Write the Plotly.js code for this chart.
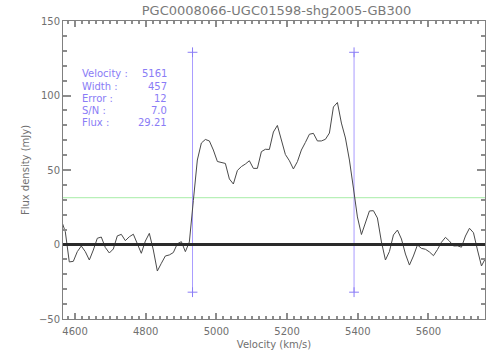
<!DOCTYPE html>
<html>
<head>
<meta charset="utf-8">
<script src="https://cdn.plot.ly/plotly-3.0.1.min.js"></script>
<style>
html,body{margin:0;padding:0;background:#fff;}
#chart{width:504px;height:360px;}
</style>
</head>
<body>
<div id="chart"></div>
<script>
// ---- data ----
var velocity = [
4561.2,4572.5,4583.8,4595.2,4606.5,4617.8,4629.1,4640.5,4651.8,4663.1,
4674.4,4685.7,4697.1,4708.4,4719.7,4731.0,4742.4,4753.7,4765.0,4776.3,
4787.6,4799.0,4810.3,4821.6,4832.9,4844.3,4855.6,4866.9,4878.2,4889.5,
4900.9,4912.2,4923.5,4934.8,4946.1,4957.5,4968.8,4980.1,4991.4,5002.8,
5014.1,5025.4,5036.7,5048.0,5059.4,5070.7,5082.0,5093.3,5104.7,5116.0,
5127.3,5138.6,5149.9,5161.3,5172.6,5183.9,5195.2,5206.6,5217.9,5229.2,
5240.5,5251.8,5263.2,5274.5,5285.8,5297.1,5308.5,5319.8,5331.1,5342.4,
5353.7,5365.1,5376.4,5387.7,5399.0,5410.4,5421.7,5433.0,5444.3,5455.6,
5467.0,5478.3,5489.6,5500.9,5512.3,5523.6,5534.9,5546.2,5557.5,5568.9,
5580.2,5591.5,5602.8,5614.2,5625.5,5636.8,5648.1,5659.4,5670.8,5682.1,
5693.4,5704.7,5716.1,5727.4,5738.7,5750.0,5761.3
];
var flux = [
16.4,8.6,-11.7,-11.3,-4.8,-1.0,-4.8,-10.4,-3.7,4.2,
5.0,-2.0,-5.7,-3.0,5.8,6.8,2.6,5.2,6.9,0.5,
-5.9,2.3,7.5,-3.7,-17.8,-12.6,-7.7,-7.0,-5.4,0.5,
1.9,-4.8,1.7,29.5,56.7,68.1,70.5,69.5,63.4,55.7,
55.2,54.4,44.0,40.6,49.7,52.3,54.0,56.2,51.1,51.1,
62.3,63.9,63.8,75.5,79.9,70.8,60.4,56.2,50.7,55.6,
63.4,68.5,74.0,74.6,69.5,69.5,70.6,74.8,92.3,95.3,
81.5,71.5,56.7,37.9,18.5,6.7,14.2,22.5,22.7,17.8,
1.7,-10.4,-4.7,6.4,9.7,3.7,-6.4,-13.8,-7.7,-0.3,
-2.6,-3.2,-5.0,-7.5,-3.4,1.5,4.8,2.3,-1.0,-0.9,
-1.8,5.7,10.9,7.9,-3.7,-14.4,-9.3
];
var edgeVelocity = [4932.5, 5389.5];   // W50 edges
var edgeFluxRange = [-32, 129];         // extent of the edge markers
var halfPeakLevel = 31.4;               // green reference level
var statLabels = ['Velocity :', 'Width :', 'Error :', 'S/N :', 'Flux :'];
var statValues = ['5161', '457', '12', '7.0', '29.21'];
var titleText = 'PGC0008066-UGC01598-shg2005-GB300';
var xRange = [4566, 5760];
var yRange = [-50, 150];

// ---- styling ----
var FONT = 'DejaVu Sans, sans-serif';
var AXC = '#808080';
var TICKC = '#8c8c8c';
var TXT = '#707070';
var PURPLE = '#8a7cf6';

var traces = [];
edgeVelocity.forEach(function (v) {
  traces.push({
    x: [v, v], y: edgeFluxRange, mode: 'lines+markers', type: 'scatter',
    line: {color: '#a99cff', width: 1},
    marker: {symbol: 'cross-thin', size: 7, line: {color: '#8a7cf6', width: 1}},
    hoverinfo: 'skip', showlegend: false
  });
});
traces.push({
  x: velocity, y: flux, mode: 'lines', type: 'scatter',
  line: {color: '#4a4a4a', width: 1},
  showlegend: false
});

var annotations = [];
var rowTop = 0.8223, rowStep = 0.0411;
statLabels.forEach(function (lab, i) {
  annotations.push({
    xref: 'paper', yref: 'paper', x: 0.040, y: rowTop - i * rowStep,
    xanchor: 'left', yanchor: 'middle', showarrow: false, text: lab,
    font: {family: FONT, size: 10, color: PURPLE}
  });
  annotations.push({
    xref: 'paper', yref: 'paper', x: 0.2505, y: rowTop - i * rowStep,
    xanchor: 'right', yanchor: 'middle', showarrow: false, text: statValues[i],
    font: {family: FONT, size: 10, color: PURPLE}
  });
});

var layout = {
  width: 504, height: 360,
  margin: {l: 63, r: 19, t: 21, b: 41},
  paper_bgcolor: '#ffffff', plot_bgcolor: '#ffffff',
  font: {family: FONT, size: 10, color: TXT},
  title: {
    text: titleText, xref: 'paper', x: 0.506, xanchor: 'center',
    yref: 'container', y: 0.972, yanchor: 'middle',
    font: {family: FONT, size: 13, color: '#7a7a7a'}
  },
  xaxis: {
    range: xRange, showgrid: false, zeroline: false,
    showline: true, linecolor: AXC, linewidth: 1, mirror: 'ticks',
    dtick: 200, tick0: 4600,
    ticks: 'inside', ticklen: 6, tickcolor: TICKC, tickwidth: 2,
    minor: {ticks: 'inside', dtick: 20, ticklen: 3, tickcolor: TICKC, tickwidth: 2},
    ticklabelstandoff: 3,
    tickfont: {family: FONT, size: 10, color: TXT},
    title: {text: 'Velocity (km/s)', standoff: 4, font: {family: FONT, size: 10, color: TXT}}
  },
  yaxis: {
    range: yRange, showgrid: false, zeroline: false,
    showline: true, linecolor: AXC, linewidth: 1, mirror: 'ticks',
    dtick: 50, tick0: 0,
    ticks: 'inside', ticklen: 8, tickcolor: TICKC, tickwidth: 2,
    minor: {ticks: 'inside', dtick: 10, ticklen: 4, tickcolor: TICKC, tickwidth: 2},
    tickfont: {family: FONT, size: 10, color: TXT},
    title: {text: 'Flux density (mJy)', standoff: 7, font: {family: FONT, size: 10, color: TXT}}
  },
  shapes: [
    {type: 'line', xref: 'paper', x0: 0, x1: 1, yref: 'y', y0: halfPeakLevel, y1: halfPeakLevel,
     line: {color: '#a6eca6', width: 1}, layer: 'below'},
    {type: 'line', xref: 'paper', x0: 0, x1: 1, yref: 'y', y0: 0, y1: 0,
     line: {color: '#2a2a2a', width: 3}, layer: 'above'}
  ],
  annotations: annotations,
  showlegend: false
};

Plotly.newPlot('chart', traces, layout, {displayModeBar: false, staticPlot: true});
</script>
</body>
</html>
